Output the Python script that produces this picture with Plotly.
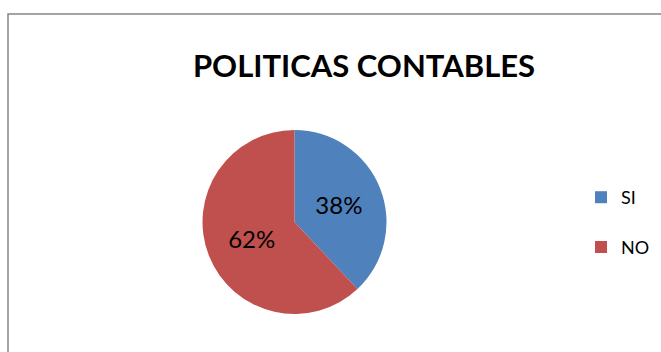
import plotly.graph_objects as go

categories = ["SI", "NO"]
values = [38, 62]
colors = ["#4F81BD", "#C0504D"]
title_text = "POLITICAS CONTABLES"

W, H = 661, 352

fig = go.Figure(go.Pie(
    labels=[c + "<br> " for c in categories],
    values=values,
    marker=dict(colors=colors, line=dict(width=0)),
    sort=False,
    direction="clockwise",
    rotation=0,
    textinfo="percent",
    textposition="inside",
    insidetextfont=dict(family="Lato", size=24, color="#000000"),
    customdata=categories,
    hovertemplate="%{customdata}: %{percent}<extra></extra>",
    domain=dict(x=[(294.5 - 92) / W, (294.5 + 92) / W], y=[1 - 314 / H, 1 - 130 / H]),
))

fig.update_layout(
    width=W, height=H,
    margin=dict(l=0, r=0, t=0, b=0),
    paper_bgcolor="white",
    plot_bgcolor="white",
    font=dict(family="Lato", color="#000000"),
    title=dict(text="<b>" + title_text + "</b>", x=364 / W, y=1 - 66 / H,
               xanchor="center", yanchor="middle",
               font=dict(family="Lato", size=31, color="#000000")),
    showlegend=True,
    legend=dict(x=581 / W, y=1 - 179 / H, xanchor="left", yanchor="top",
                font=dict(family="Lato", size=18, color="#000000"),
                valign="top", bgcolor="rgba(0,0,0,0)"),
    shapes=[dict(type="rect", xref="paper", yref="paper",
                 x0=8 / W, x1=1.1, y0=-0.1, y1=1 - 14 / H,
                 line=dict(color="#868686", width=1.5), fillcolor="rgba(0,0,0,0)",
                 layer="below")],
)

fig.write_html("out.html", config={"displayModeBar": False},
               post_script="document.body.style.margin='0';document.body.style.overflow='hidden';")
